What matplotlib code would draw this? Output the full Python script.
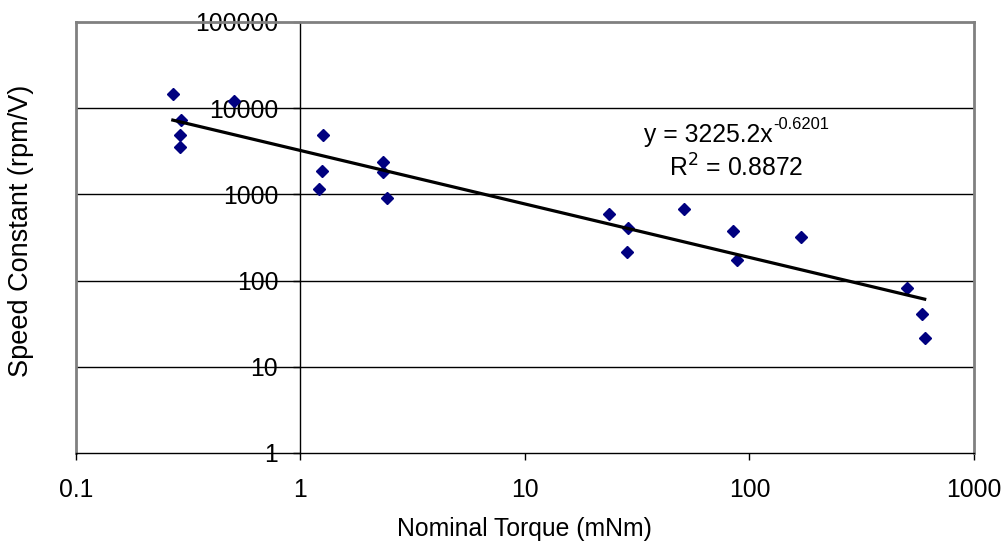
import numpy as np
import matplotlib
matplotlib.use("Agg")
import matplotlib.pyplot as plt
from matplotlib.ticker import FixedLocator, FuncFormatter, NullLocator

plt.rcParams['font.family'] = ['Liberation Sans', 'DejaVu Sans']

# nominal torque (mNm) and speed constant (rpm/V)
torque = [0.27, 0.508, 0.295, 0.29, 0.29, 1.265, 1.25, 1.215, 2.34, 2.34, 2.44,
          23.7, 28.8, 28.5, 51.1, 84.5, 88.0, 169.0, 502.0, 586.0, 604.0]
speed = [14500, 12000, 7250, 4850, 3550, 4850, 1860, 1140, 2350, 1800, 900,
         585, 403, 217, 670, 371, 175, 316, 83, 41.3, 21.7]

# power trendline as shown on the chart
coef_a = 3225.2
coef_b = -0.6201
r_squared = 0.8872

x_ticks = [0.1, 1, 10, 100, 1000]
y_ticks = [1, 10, 100, 1000, 10000, 100000]

fs = 17.8

fig = plt.figure(figsize=(10.05, 5.48), dpi=100)
ax = fig.add_axes([0.0756, 0.1734, 0.8934, 0.7866])
ax.set_xscale('log')
ax.set_yscale('log')
ax.set_xlim(0.1, 1000)
ax.set_ylim(1, 100000)

gray = '#808080'
# horizontal gridlines
for yv in y_ticks[1:-1]:
    ax.axhline(yv, color='black', lw=1.0, zorder=1)

# frame: gray on top/right/left edge, black x-axis, y-axis crossing at x=1
ax.spines['top'].set_color(gray)
ax.spines['right'].set_color(gray)
ax.spines['top'].set_linewidth(2)
ax.spines['right'].set_linewidth(2)
ax.spines['bottom'].set_color('black')
ax.spines['bottom'].set_linewidth(1.0)
ax.spines['left'].set_position(('data', 1))
ax.spines['left'].set_color('black')
ax.spines['left'].set_linewidth(1.0)
ax.axvline(0.1, color=gray, lw=2, zorder=1, clip_on=False)

ax.xaxis.set_major_locator(FixedLocator(x_ticks))
ax.yaxis.set_major_locator(FixedLocator(y_ticks))
ax.xaxis.set_minor_locator(NullLocator())
ax.yaxis.set_minor_locator(NullLocator())
fmt = FuncFormatter(lambda v, p: ('%g' % v) if v < 1e5 else '100000')
ax.xaxis.set_major_formatter(fmt)
ax.yaxis.set_major_formatter(fmt)
ax.tick_params(axis='both', which='major', direction='out', length=5,
               width=1, labelsize=fs, color='black')
ax.tick_params(axis='x', pad=13)
ax.tick_params(axis='y', pad=11)

ax.plot(torque, speed, linestyle='none', marker='D', markersize=5.8,
        color='#000080', zorder=3)

fit_x = np.logspace(np.log10(min(torque)), np.log10(max(torque)), 100)
fit_y = coef_a * fit_x ** coef_b
ax.plot(fit_x, fit_y, color='black', lw=2.3, zorder=4)

eq = ax.text(0.633, 0.722, 'y = %.1fx' % coef_a, transform=ax.transAxes,
             ha='left', va='baseline', fontsize=fs)
ax.annotate('%.4f' % coef_b, xy=(1.0, 0.6), xycoords=eq, ha='left', va='bottom',
            fontsize=fs * 0.67)
ax.text(0.735, 0.662, 'R$^{2}$ = %.4f' % r_squared, transform=ax.transAxes,
        ha='center', va='center', fontsize=fs)

ax.set_xlabel('Nominal Torque (mNm)', fontsize=fs, labelpad=11)
fig.text(0.021, 0.578, 'Speed Constant (rpm/V)', rotation=90, ha='center', va='center',
         fontsize=19.5)

fig.savefig('out.png', dpi=100)
